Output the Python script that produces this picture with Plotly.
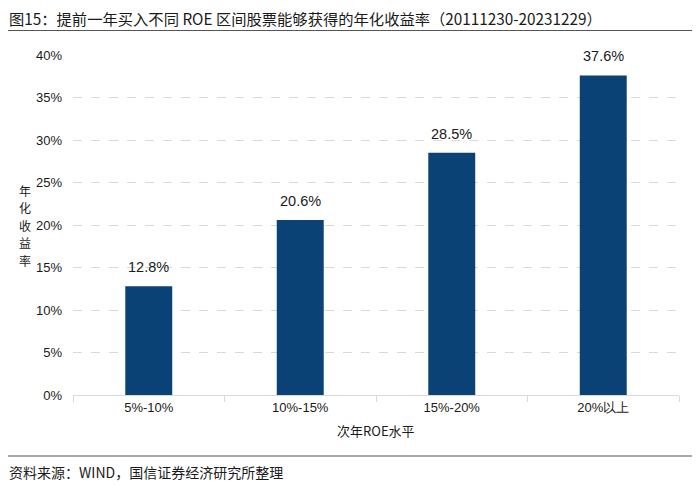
import plotly.graph_objects as go

categories = ["5%-10%", "10%-15%", "15%-20%", "20%以上"]
values = [12.8, 20.6, 28.5, 37.6]
tick_vals = [0, 5, 10, 15, 20, 25, 30, 35, 40]
tick_text = ["0%", "5%", "10%", "15%", "20%", "25%", "30%", "35%", "40%"]
labels = [f"{v:.1f}%" for v in values]
ylabel_chars = ["年", "化", "收", "益", "率"]

# page body has an 8px margin; work in reference pixel coords and subtract it
O = 8
W, H = 700 - O, 485 - O
L, T = 73 - O, 55 - O
R = W - (679 - O)
B = H - (395 - O)
pw, ph = W - L - R, H - T - B

def px(x):
    return (x - O - L) / pw

def py(y):
    return (H - B - (y - O)) / ph

fig = go.Figure()
fig.add_trace(go.Bar(
    x=categories, y=values,
    marker=dict(color="#0A4275", line=dict(width=0)),
    width=0.31,
))

for c, v, t in zip(categories, values, labels):
    fig.add_annotation(
        x=c, y=v, text=t, showarrow=False, xanchor="center", yanchor="bottom",
        yshift=9,
        font=dict(family="Liberation Sans, Arial, sans-serif", size=14.5, color="#1a1a1a"),
    )

fig.update_layout(
    width=W, height=H,
    margin=dict(l=L, r=R, t=T, b=B),
    paper_bgcolor="white", plot_bgcolor="white",
    showlegend=False,
    font=dict(family="Liberation Sans, Arial, sans-serif", size=13, color="#1a1a1a"),
    xaxis=dict(
        showline=True, linecolor="#d9d9d9", linewidth=1,
        ticks="outside", tickson="boundaries", ticklen=6, tickcolor="#d9d9d9",
        tickfont=dict(size=13, family="Liberation Sans, Arial, sans-serif"),
        showgrid=False,
    ),
    yaxis=dict(
        range=[0, 40], tickvals=tick_vals, ticktext=tick_text,
        showgrid=True, gridcolor="#d9d9d9", griddash="dash", gridwidth=1,
        zeroline=False, showline=False, ticks="", ticklabelstandoff=10,
        tickfont=dict(size=13, family="Liberation Sans, Arial, sans-serif"),
    ),
)

fig.add_annotation(
    text="图15：提前一年买入不同 ROE 区间股票能够获得的年化收益率（20111230-20231229）",
    xref="paper", yref="paper", x=px(7), y=py(18.5), xanchor="left", yanchor="middle",
    showarrow=False, font=dict(family="Noto Sans CJK SC", size=15.3, color="#1a1a1a"),
)
fig.add_shape(type="line", xref="paper", yref="paper", x0=px(7), x1=px(695),
              y0=py(30.5), y1=py(30.5), line=dict(color="#555555", width=1.2))
fig.add_shape(type="line", xref="paper", yref="paper", x0=px(7), x1=px(695),
              y0=py(456), y1=py(456), line=dict(color="#555555", width=1.2))
fig.add_annotation(
    text="资料来源：WIND，国信证券经济研究所整理",
    xref="paper", yref="paper", x=px(7), y=py(472), xanchor="left", yanchor="middle",
    showarrow=False, font=dict(family="Noto Sans CJK SC", size=14, color="#1a1a1a"),
)
for i, ch in enumerate(ylabel_chars):
    fig.add_annotation(
        text=ch, xref="paper", yref="paper", x=px(25), y=py(190 + 17.5 * i),
        xanchor="center", yanchor="middle", showarrow=False,
        font=dict(family="Noto Sans CJK SC", size=12, color="#1a1a1a"),
    )
fig.add_annotation(
    text="次年ROE水平",
    xref="paper", yref="paper", x=px(376), y=py(430), xanchor="center", yanchor="middle",
    showarrow=False, font=dict(family="Noto Sans CJK SC", size=13, color="#1a1a1a"),
)

fig.write_html("out.html")
